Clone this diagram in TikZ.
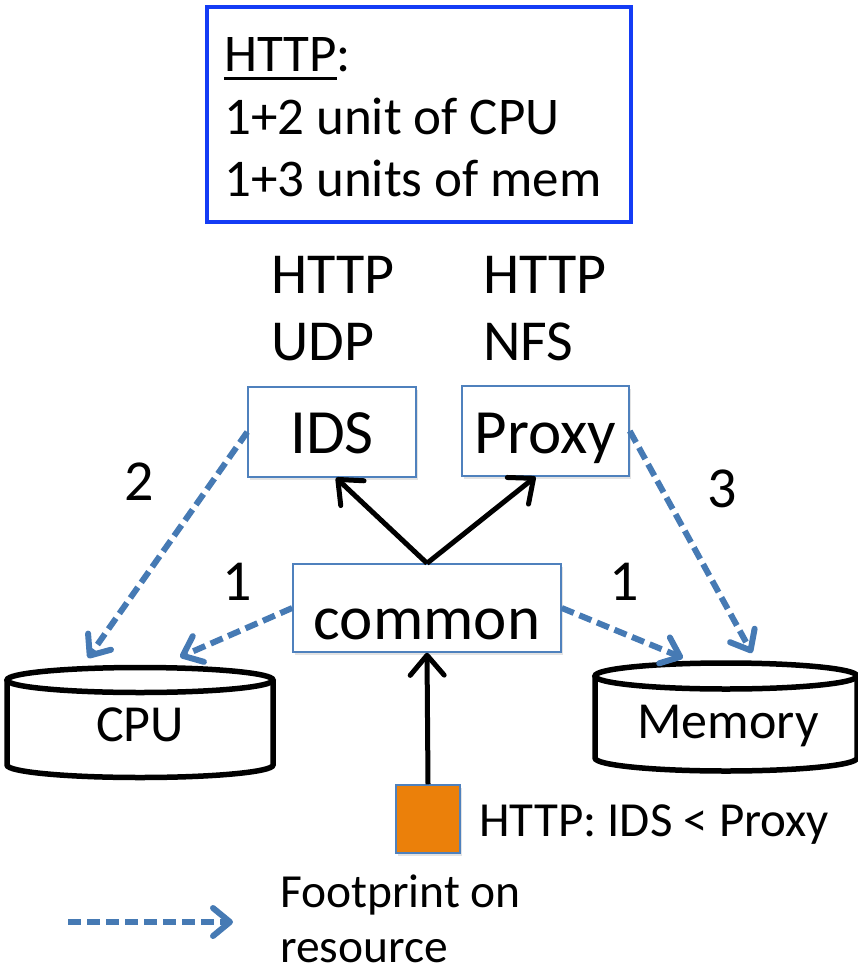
\documentclass[tikz,border=0pt]{standalone}
\usepackage{fontspec}
\setmainfont{Carlito}
\usetikzlibrary{arrows.meta,shadows,calc}

\definecolor{boxblue}{RGB}{79,129,189}
\definecolor{flowblue}{RGB}{70,122,180}
\definecolor{frameblue}{RGB}{20,60,245}
\definecolor{squareorange}{RGB}{235,128,10}

% underline drawn as a rule a few points below the baseline
\newcommand\ulword[1]{\setbox0\hbox{#1}\rlap{\vrule width\wd0 height -5.5pt depth 8.5pt}\box0}

\begin{document}
\begin{tikzpicture}[x=1pt,y=-1pt,
  txt/.style={inner sep=0pt,anchor=base west,font=\fontsize{#1}{#1}\selectfont},
  ctxt/.style={inner sep=0pt,anchor=base,font=\fontsize{#1}{#1}\selectfont},
  softshadow/.style={drop shadow={opacity=0.22,shadow xshift=1.5pt,shadow yshift=-2.5pt}},
  unitbox/.style={draw=boxblue,line width=1.5pt,fill=white,inner sep=0pt,
    font=\fontsize{63}{63}\selectfont,text depth=0pt,softshadow},
  cyl/.style={draw=black,line width=5.5pt},
  callflow/.style={draw=black,line width=5pt,
    -{Straight Barb[length=20pt,width=34pt,round]}},
  footprint/.style={draw=flowblue,line width=6pt,dash pattern=on 13pt off 6pt,
    -{Straight Barb[length=17pt,width=28pt,round]}}]

\useasboundingbox (0,0) rectangle (858,973);

% summary frame
\node[draw=frameblue,line width=4pt,minimum width=424pt,minimum height=215pt,inner sep=0pt]
  (summary) at (419,114.5) {};
\node[txt=53] (sumA) at (224,72) {\ulword{HTTP}:};
\node[txt=53] (sumB) at (224,135) {1+2 unit of CPU};
\node[txt=53] (sumC) at (224,197) {1+3 units of mem};

% traffic handled by each middlebox
\node[txt=58] (idsHttp) at (271,293) {HTTP};
\node[txt=58] (idsUdp) at (271,360) {UDP};
\node[txt=58] (pxHttp) at (483,293) {HTTP};
\node[txt=58] (pxNfs) at (483,360) {NFS};

% processing units
\node[unitbox,minimum width=168pt,minimum height=90pt,text height=42pt] (ids) at (332,432) {IDS};
\node[unitbox,minimum width=167pt,minimum height=90pt,text height=44pt] (proxy) at (545.5,431) {Proxy};
\node[unitbox,minimum width=268pt,minimum height=88pt,text height=62pt] (common) at (427,608) {common};

% packet source
\node[draw=boxblue,line width=1.5pt,fill=squareorange,minimum width=64pt,minimum height=68pt,
  inner sep=0pt,softshadow] (sq) at (428,819) {};
\node[txt=49] (order) at (479,836) {HTTP: IDS < Proxy};

% resources
\draw[cyl] (140,680) ellipse [x radius=133, y radius=12.5];
\draw[cyl] (7,680) -- (7,765) arc[start angle=180,end angle=0,x radius=133,y radius=12.5] -- (273,680);
\node[ctxt=52] (cpu) at (140,741) {CPU};

\draw[cyl] (726,676) ellipse [x radius=131, y radius=13];
\draw[cyl] (595,676) -- (595,758) arc[start angle=180,end angle=0,x radius=131,y radius=13] -- (857,676);
\node[ctxt=52] (mem) at (728,738) {Memory};

\coordinate (cpuInA) at (88,658);
\coordinate (cpuInB) at (180,657);
\coordinate (memInA) at (683,658);
\coordinate (memInB) at (752,653);

% call flow
\draw[callflow] (common.north) -- ([xshift=4pt]ids.south);
\draw[callflow] (common.north) -- ([xshift=-10pt]proxy.south);
\draw[callflow] (sq.north) -- (common.south);

% resource footprints
\draw[footprint] (ids.west) -- (cpuInA);
\draw[footprint] (common.west) -- (cpuInB);
\draw[footprint] (common.east) -- (memInA);
\draw[footprint] (proxy.east) -- (memInB);

\node[ctxt=58] (wIds) at (139,500) {2};
\node[ctxt=58] (wCommonL) at (237,600) {1};
\node[ctxt=58] (wCommonR) at (624,600) {1};
\node[ctxt=58] (wProxy) at (722,507) {3};

% legend
\coordinate (legA) at (68,922);
\coordinate (legB) at (233,922);
\draw[footprint] (legA) -- (legB);
\node[txt=47.5] (legTop) at (280,907) {Footprint on};
\node[txt=47.5] (legBot) at (280,962) {resource};

\end{tikzpicture}
\end{document}
